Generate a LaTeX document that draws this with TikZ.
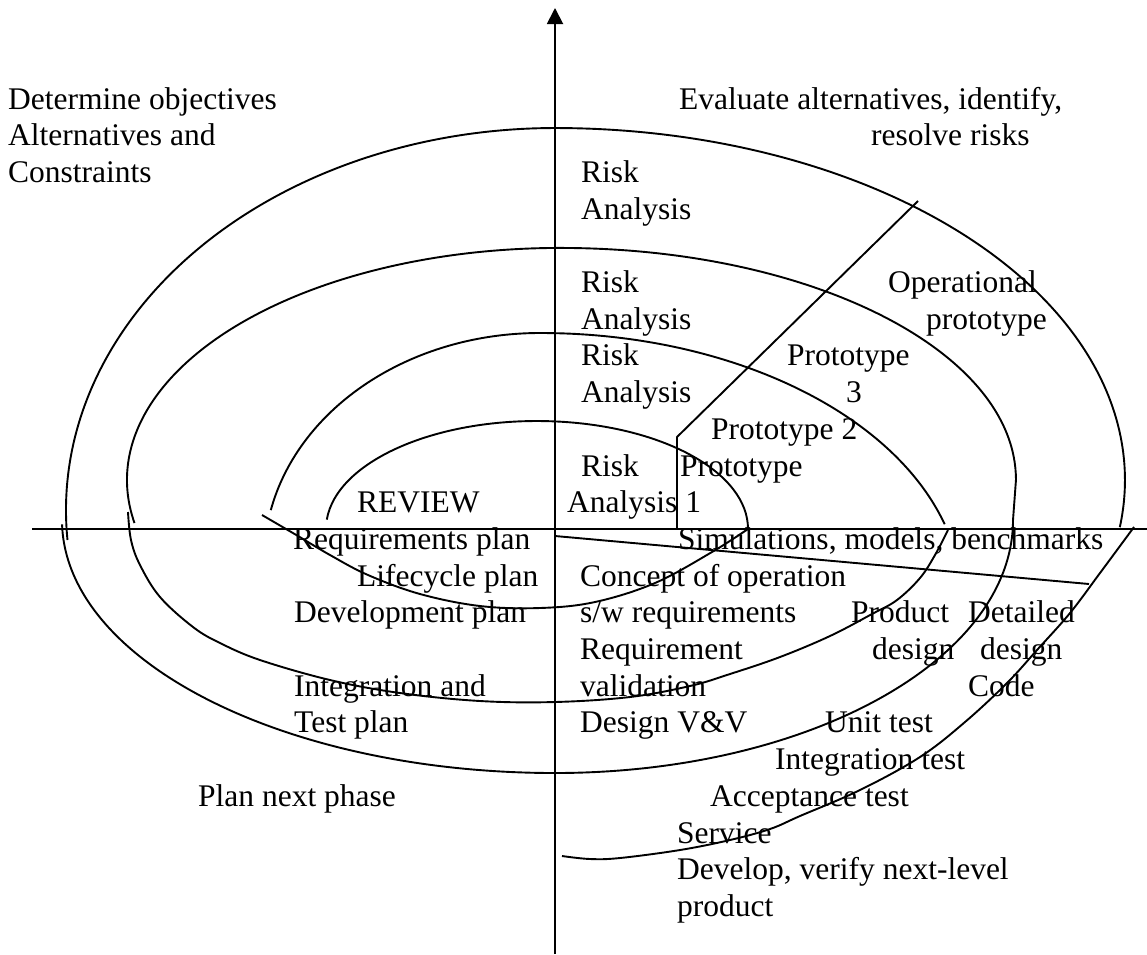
\documentclass[tikz,border=0pt]{standalone}
\usepackage{fontspec}
\setmainfont{Liberation Serif}
\usetikzlibrary{arrows.meta}
\begin{document}
\begin{tikzpicture}[x=1pt,y=-1pt,
  lbl/.style={inner sep=0pt,anchor=base west,font=\fontsize{31.5}{37}\selectfont},
  ln/.style={line width=1.9pt,line join=round},
  curve/.style={line width=1.9pt}]
\useasboundingbox (0,0) rectangle (1147,954);

% axes
\coordinate (hL) at (32,529);
\coordinate (hR) at (1147,529);
\coordinate (vB) at (555,954);
\coordinate (vT) at (555,8);
\draw[ln] (hL) -- (hR);
\draw[ln,-{Triangle[length=16pt,width=16pt]}] (vB) -- (vT);

% radial lines
\coordinate (sO) at (555,536);
\coordinate (sE) at (1089,584);
\draw[ln] (sO) -- (sE);
\coordinate (pA) at (677,529);
\coordinate (pB) at (677,437);
\coordinate (pC) at (918,201);
\draw[ln] (pA) -- (pB) -- (pC);

% spiral
\draw[curve] (326.8,519.6) arc[start angle=185,end angle=360,x radius=211,y radius=108];
\draw[curve] plot[smooth,tension=0.6] coordinates {(748,529) (712,552) (655,583) (595,602) (540,608) (480,606) (420,594) (368,575) (330,555) (298,536) (262,515)};
\draw[curve] (270.8,510.1) arc[start angle=192.7,end angle=270,x radius=276,y radius=227]
  arc[start angle=270,end angle=343.5,x radius=422,y radius=267];
\draw[curve] plot[smooth,tension=0.6] coordinates {(948,530) (935,555) (920,578) (897,600) (872,614) (830,636) (780,657) (730,674) (690,686) (630,697) (555,702) (480,701) (400,693) (330,680) (260,660) (220,643) (193,627) (160,597) (140,565) (131,540) (128,512)};
\draw[curve] (134.5,523) arc[start angle=169.3,end angle=270,x radius=433,y radius=232]
  arc[start angle=270,end angle=360,x radius=456,y radius=232] -- (1013,520)
  arc[start angle=0,end angle=90,x radius=458,y radius=253]
  arc[start angle=90,end angle=179,x radius=493,y radius=253];
\draw[curve] (67.5,540) arc[start angle=175.5,end angle=270,x radius=489,y radius=382]
  arc[start angle=270,end angle=367.7,x radius=570,y radius=352];
\draw[curve] plot[smooth,tension=0.6] coordinates {(1134,527) (1100,573) (1070,613) (1037,650) (1007,683) (965,722) (920,757) (860,790) (800,816) (770,829) (730,840) (680,850) (620,858) (590,859) (562,856)};

% labels
\node[lbl] (t1) at (8,109) {Determine objectives};
\node[lbl] (t2) at (8,145.7) {Alternatives and};
\node[lbl] (t3) at (8,182.4) {Constraints};
\node[lbl] (t4) at (679,109) {Evaluate alternatives, identify,};
\node[lbl] (t5) at (871,145.7) {resolve risks};
\node[lbl] (r1a) at (581,182.4) {Risk};
\node[lbl] (r1b) at (581,219.1) {Analysis};
\node[lbl] (r2a) at (581,292.5) {Risk};
\node[lbl] (r2b) at (581,329.2) {Analysis};
\node[lbl] (op1) at (888,292.5) {Operational};
\node[lbl] (op2) at (926,329.2) {prototype};
\node[lbl] (r3a) at (581,365.9) {Risk};
\node[lbl] (r3b) at (581,402.6) {Analysis};
\node[lbl] (p3a) at (787,365.9) {Prototype};
\node[lbl] (p3b) at (846,402.6) {3};
\node[lbl] (p2) at (711,439.3) {Prototype 2};
\node[lbl] (r4a) at (581,476) {Risk};
\node[lbl] (p1) at (680,476) {Prototype};
\node[lbl] (rev) at (357,512.7) {REVIEW};
\node[lbl] (r4b) at (567,512.7) {Analysis 1};
\node[lbl] (req) at (293,549.4) {Requirements plan};
\node[lbl] (sim) at (678,549.4) {Simulations, models, benchmarks};
\node[lbl] (life) at (357,586.1) {Lifecycle plan};
\node[lbl] (conc) at (580,586.1) {Concept of operation};
\node[lbl] (dev) at (294,622.8) {Development plan};
\node[lbl] (swr) at (580,622.8) {s/w requirements};
\node[lbl] (prd) at (851,622.8) {Product};
\node[lbl] (det) at (968,622.8) {Detailed};
\node[lbl] (rq) at (580,659.5) {Requirement};
\node[lbl] (pdd) at (872,659.5) {design};
\node[lbl] (ddd) at (980,659.5) {design};
\node[lbl] (int) at (294,696.2) {Integration and};
\node[lbl] (val) at (580,696.2) {validation};
\node[lbl] (code) at (968,696.2) {Code};
\node[lbl] (tp) at (294,732.9) {Test plan};
\node[lbl] (dvv) at (580,732.9) {Design V\&V};
\node[lbl] (ut) at (825,732.9) {Unit test};
\node[lbl] (it) at (775,769.6) {Integration test};
\node[lbl] (pnp) at (198,806.3) {Plan next phase};
\node[lbl] (at) at (710,806.3) {Acceptance test};
\node[lbl] (srv) at (677,843) {Service};
\node[lbl] (dvp) at (677,879.7) {Develop, verify next-level};
\node[lbl] (prod) at (677,916.4) {product};
\end{tikzpicture}
\end{document}
